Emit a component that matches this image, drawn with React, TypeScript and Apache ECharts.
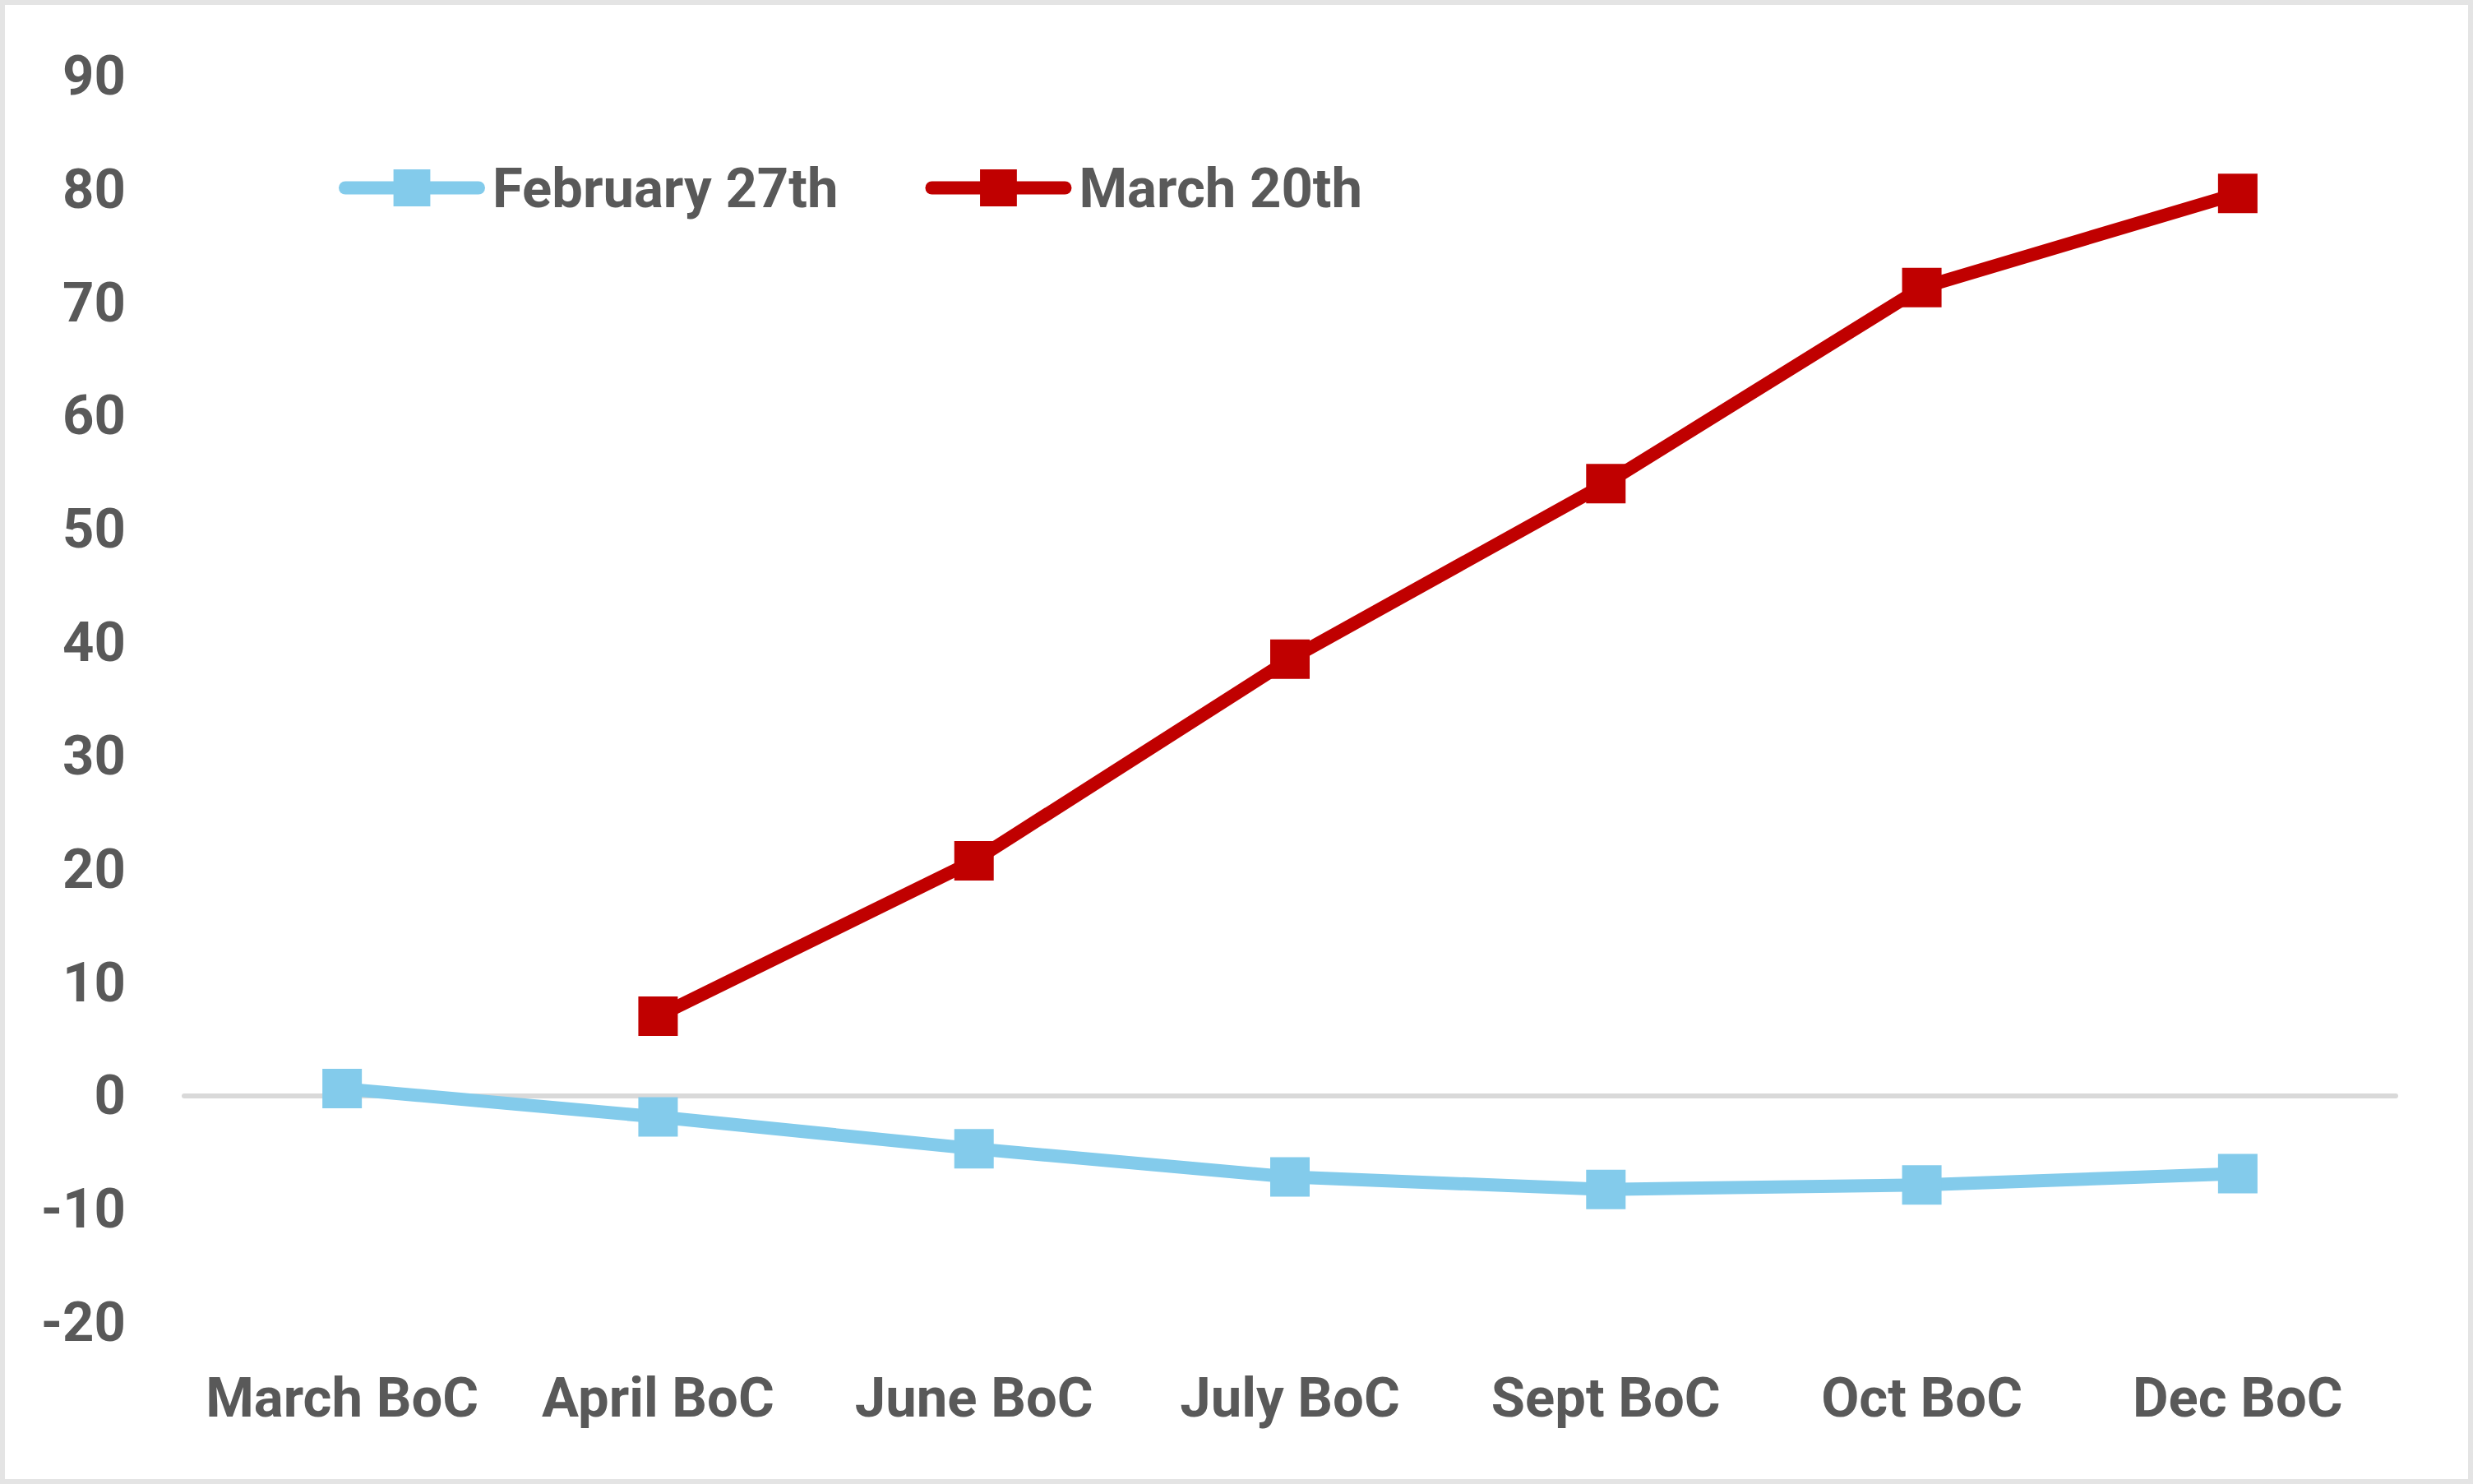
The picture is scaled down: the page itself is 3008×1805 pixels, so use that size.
import React, { useEffect, useRef } from "react";
import * as echarts from "echarts";

const categories = ["March BoC", "April BoC", "June BoC", "July BoC", "Sept BoC", "Oct BoC", "Dec BoC"];
const feb27 = [0.6, -1.9, -4.7, -7.2, -8.3, -7.9, -6.9];
const mar20 = [null, 7.0, 20.7, 38.5, 54.0, 71.3, 79.6];
const seriesNames = ["February 27th", "March 20th"];
const yMin = -20;
const yMax = 90;
const yStep = 10;

const TEXT = "#595959";
const FONT = "Roboto";

export default function App() {
  const ref = useRef<HTMLDivElement>(null);
  useEffect(() => {
    if (!ref.current) return;
    const chart = echarts.init(ref.current, undefined, { renderer: "svg" });
    chart.setOption({
      animation: false,
      backgroundColor: "#ffffff",
      textStyle: { fontFamily: FONT },
      graphic: [
        {
          type: "rect",
          shape: { x: 3, y: 3, width: 3002, height: 1799 },
          style: { fill: "none", stroke: "#e4e4e4", lineWidth: 6 },
          silent: true,
        },
      ],
      legend: {
        left: 407,
        top: 190,
        itemWidth: 162,
        itemHeight: 56,
        itemGap: 106,
        lineStyle: { width: 16, cap: "round" },
        textStyle: { color: TEXT, fontSize: 67, fontWeight: "bold", fontFamily: FONT, padding: [0, 0, 0, 12] },
        data: seriesNames,
      },
      grid: { left: 224, right: 94, top: 92, bottom: 197, containLabel: false },
      xAxis: [
        {
          type: "category",
          data: categories,
          boundaryGap: true,
          axisLine: { show: false, onZero: false },
          axisTick: { show: false },
          splitLine: { show: false },
          axisLabel: { color: TEXT, fontSize: 67, fontWeight: "bold", fontFamily: FONT, margin: 58, interval: 0 },
        },
        {
          type: "category",
          data: categories,
          boundaryGap: true,
          position: "bottom",
          axisLine: { show: true, onZero: true, lineStyle: { color: "#d9d9d9", width: 6 } },
          axisTick: { show: false },
          axisLabel: { show: false },
          splitLine: { show: false },
        },
      ],
      yAxis: {
        type: "value",
        min: yMin,
        max: yMax,
        interval: yStep,
        axisLine: { show: false },
        axisTick: { show: false },
        splitLine: { show: false },
        axisLabel: { color: TEXT, fontSize: 67, fontWeight: "bold", fontFamily: FONT, margin: 71 },
      },
      series: [
        {
          name: seriesNames[0],
          type: "line",
          data: feb27,
          xAxisIndex: 0,
          symbol: "rect",
          symbolSize: 48,
          lineStyle: { color: "#83CBEB", width: 16, cap: "round" },
          itemStyle: { color: "#83CBEB" },
          z: 3,
        },
        {
          name: seriesNames[1],
          type: "line",
          data: mar20,
          xAxisIndex: 0,
          symbol: "rect",
          symbolSize: 48,
          lineStyle: { color: "#C00000", width: 16, cap: "round" },
          itemStyle: { color: "#C00000" },
          z: 4,
        },
      ],
    });
    return () => chart.dispose();
  }, []);
  return (
    <div
      ref={ref}
      style={{ position: "fixed", left: 0, top: 0, width: 3008, height: 1805 }}
    />
  );
}
